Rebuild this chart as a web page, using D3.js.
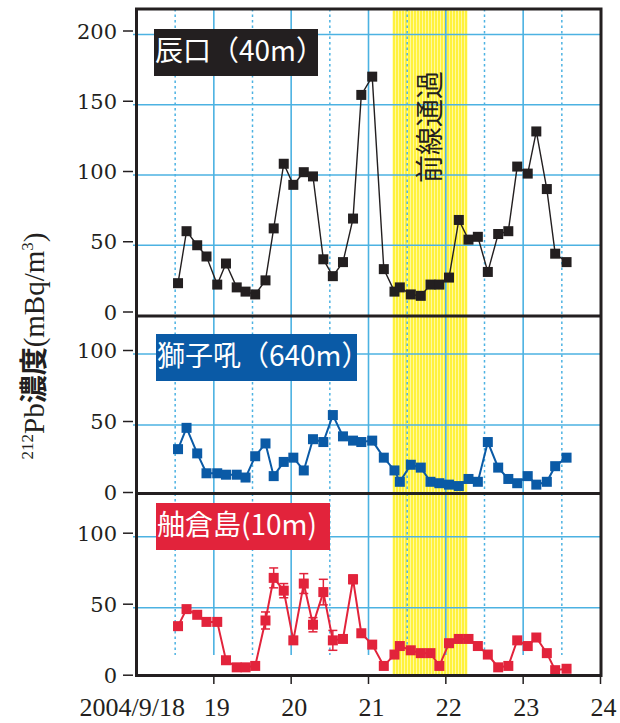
<!DOCTYPE html>
<html>
<head>
<meta charset="utf-8">
<script src="https://cdn.jsdelivr.net/npm/d3@7"></script>
<style>
  body { margin: 0; background: #fff; }
  svg { display: block; }
</style>
</head>
<body>
<svg id="chart" width="620" height="723"></svg>
<script>
// Sampling times, in days of September 2004
const times = [18.537, 18.647, 18.785, 18.905, 19.044, 19.157, 19.296, 19.410, 19.535, 19.668,
               19.774, 19.904, 20.028, 20.163, 20.282, 20.416, 20.539, 20.670, 20.800, 20.907,
               21.048, 21.198, 21.336, 21.405, 21.547, 21.676, 21.802, 21.916, 22.041, 22.168,
               22.293, 22.414, 22.543, 22.677, 22.808, 22.923, 23.059, 23.170, 23.306, 23.414,
               23.561];

// 212Pb concentration (mBq/m3) at each site
const tatsunokuchi = [23, 60, 50, 42, 22, 37, 20, 17, 15, 25, 62, 108, 93, 102, 99, 40, 28, 38, 69, 157,
                      170, 33, 17, 20, 15, 14, 22, 22, 27, 68, 54, 56, 31, 58, 60, 106, 101, 131, 90, 44,
                      38];
const shishiku = [33, 48, 30, 16, 16, 15, 15, 13, 28, 37, 14, 24, 27, 18, 40, 38, 57, 42, 39, 38,
                  39, 27, 18, 10, 22, 20, 10, 9, 8, 7, 12, 10, 38, 20, 12, 9, 14, 8, 10, 21,
                  27];
const hegura = [37, 49, 45, 40, 40, 13, 8, 8, 9, 41, 71, 62, 27, 67, 38, 61, 27, 28, 70, 32,
                24, 9, 17, 23, 20, 18, 18, 9, 25, 28, 28, 23, 17, 8, 9, 27, 23, 29, 18, 6,
                7];
const heguraErr = [0, 0, 0, 0, 0, 0, 0, 0, 0, 6, 7, 5, 0, 7, 5, 9, 7, 0, 3, 0,
                   0, 0, 0, 0, 0, 0, 0, 0, 0, 0, 0, 0, 0, 0, 0, 0, 0, 0, 0, 0,
                   0];

const dayTicks = [19, 20, 21, 22, 23, 24];
const dayLabels = ["19", "20", "21", "22", "23", "24"];
const firstDayLabel = "2004/9/18";
const gridDays = [19, 20, 21, 22, 23];
const halfDays = [18.5, 19.5, 20.5, 21.5, 22.5, 23.5];
const frontPassage = [21.31, 22.28];
const frontLabel = "前線通過";

const topTicks = [0, 50, 100, 150, 200];
const lowTicks = [0, 50, 100];

const svg = d3.select("#chart");
const INK = "#231f20";
const GRID = "#4cb2e2";
const CJK = "'Noto Sans CJK JP', 'Noto Sans CJK SC', sans-serif";

const left = 136.5, right = 600.5;
const x = d3.scaleLinear().domain([18, 24]).range([left, right]);

const panels = [
  { name: "辰口（40m）", values: tatsunokuchi, err: null, color: INK, lineW: 1.4,
    top: 9, bottom: 316, y: d3.scaleLinear().domain([0, 200]).range([315.5, 34.5]),
    ticks: topTicks, grid: [50, 100, 150, 200], vBottom: 316,
    box: [154, 29, 164, 47], textBase: 61 },
  { name: "獅子吼（640m）", values: shishiku, err: null, color: "#0a5aa6", lineW: 2,
    top: 316, bottom: 493.5, y: d3.scaleLinear().domain([0, 100]).range([496, 354]),
    ticks: lowTicks, grid: [50, 100], vBottom: 493.5,
    box: [156, 334, 201, 47], textBase: 366 },
  { name: "舳倉島(10m)", values: hegura, err: heguraErr, color: "#e2233b", lineW: 2,
    top: 493.5, bottom: 675.5, y: d3.scaleLinear().domain([0, 100]).range([678.7, 536.7]),
    ticks: lowTicks, grid: [50, 100], vBottom: 655,
    box: [156, 503, 174, 47], textBase: 535 }
];

// hatched yellow band pattern
const defs = svg.append("defs");
const pat = defs.append("pattern").attr("id", "hatch").attr("patternUnits", "userSpaceOnUse")
  .attr("width", 3).attr("height", 4);
pat.append("rect").attr("width", 3).attr("height", 4).attr("fill", "#fff23c");
pat.append("rect").attr("x", 2.2).attr("width", 0.8).attr("height", 4).attr("fill", "#fffbb8");

// front passage band
svg.append("rect")
  .attr("x", x(frontPassage[0])).attr("y", 10.5)
  .attr("width", x(frontPassage[1]) - x(frontPassage[0])).attr("height", 665)
  .attr("fill", "url(#hatch)");

// gridlines
panels.forEach(p => {
  const g = svg.append("g");
  g.selectAll("line.h").data(p.grid).join("line")
    .attr("x1", 133).attr("x2", right)
    .attr("y1", d => p.y(d)).attr("y2", d => p.y(d))
    .attr("stroke", GRID).attr("stroke-width", 1.6);
  g.selectAll("line.d").data(gridDays).join("line")
    .attr("x1", d => x(d)).attr("x2", d => x(d))
    .attr("y1", p.top).attr("y2", p.vBottom)
    .attr("stroke", GRID).attr("stroke-width", 1.6);
  g.selectAll("line.hd").data(halfDays).join("line")
    .attr("x1", d => x(d)).attr("x2", d => x(d))
    .attr("y1", p.top).attr("y2", p.vBottom)
    .attr("stroke", GRID).attr("stroke-width", 1.5)
    .attr("stroke-dasharray", "2.5,3");
});

// front passage label
svg.append("text")
  .attr("transform", `translate(${(x(frontPassage[0]) + x(frontPassage[1])) / 2 + 10},127) rotate(-90)`)
  .attr("text-anchor", "middle")
  .attr("font-family", CJK).attr("font-size", 28).attr("fill", INK)
  .text(frontLabel);

// series
panels.forEach(p => {
  const g = svg.append("g");
  const pts = times.map((t, i) => ({ t, v: p.values[i], e: p.err ? p.err[i] : 0 }));
  g.append("path").datum(pts)
    .attr("d", d3.line().x(d => x(d.t)).y(d => p.y(d.v)))
    .attr("fill", "none").attr("stroke", p.color).attr("stroke-width", p.lineW);
  const eb = pts.filter(d => d.e > 0);
  g.selectAll("line.eb").data(eb).join("line")
    .attr("x1", d => x(d.t)).attr("x2", d => x(d.t))
    .attr("y1", d => p.y(d.v - d.e)).attr("y2", d => p.y(d.v + d.e))
    .attr("stroke", p.color).attr("stroke-width", 1.5);
  [1, -1].forEach(s => {
    g.selectAll("line.cap" + s).data(eb).join("line")
      .attr("x1", d => x(d.t) - 4.5).attr("x2", d => x(d.t) + 4.5)
      .attr("y1", d => p.y(d.v + s * d.e)).attr("y2", d => p.y(d.v + s * d.e))
      .attr("stroke", p.color).attr("stroke-width", 1.5);
  });
  g.selectAll("rect").data(pts).join("rect")
    .attr("x", d => x(d.t) - 5).attr("y", d => p.y(d.v) - 5)
    .attr("width", 10).attr("height", 10).attr("fill", p.color);

  // site label box
  svg.append("rect")
    .attr("x", p.box[0]).attr("y", p.box[1]).attr("width", p.box[2]).attr("height", p.box[3])
    .attr("fill", p.color);
  svg.append("text")
    .attr("x", p.box[0] + 1).attr("y", p.textBase)
    .attr("font-family", CJK).attr("font-size", 28).attr("fill", "#fff")
    .text(p.name);

  // y axis
  const ax = svg.append("g").attr("transform", "translate(0,-3.5)");
  ax.selectAll("line").data(p.ticks).join("line")
    .attr("x1", 123).attr("x2", 133)
    .attr("y1", d => p.y(d)).attr("y2", d => p.y(d))
    .attr("stroke", INK).attr("stroke-width", 1.5);
  ax.selectAll("text").data(p.ticks).join("text")
    .attr("x", 117).attr("y", d => p.y(d) + 7.5)
    .attr("text-anchor", "end")
    .attr("font-family", "'DejaVu Serif', serif").attr("font-size", 21).attr("fill", INK)
    .text(d => d);
});

// frame and panel dividers
svg.append("rect").attr("x", left).attr("y", 9).attr("width", right - left + 0.5).attr("height", 666.5)
  .attr("fill", "none").attr("stroke", INK).attr("stroke-width", 3);
[316, 493.5].forEach(yv => {
  svg.append("line").attr("x1", left).attr("x2", right + 0.5).attr("y1", yv).attr("y2", yv)
    .attr("stroke", INK).attr("stroke-width", 3);
});

// x axis
const xa = svg.append("g");
xa.selectAll("line").data(dayTicks).join("line")
  .attr("x1", d => x(d)).attr("x2", d => x(d)).attr("y1", 677).attr("y2", 684)
  .attr("stroke", INK).attr("stroke-width", 1.5);
xa.selectAll("text").data(dayTicks).join("text")
  .attr("x", d => x(d) + 3).attr("y", 716)
  .attr("text-anchor", "middle")
  .attr("font-family", "'Liberation Serif', serif").attr("font-size", 26).attr("fill", INK)
  .text((d, i) => dayLabels[i]);
xa.append("text").attr("x", 185).attr("y", 716).attr("text-anchor", "end")
  .attr("font-family", "'Liberation Serif', serif").attr("font-size", 26).attr("fill", INK)
  .text(firstDayLabel);

// y axis title
const yt = svg.append("text")
  .attr("transform", "translate(44,346) rotate(-90)")
  .attr("text-anchor", "middle")
  .attr("font-family", "'Liberation Serif', serif").attr("font-size", 29).attr("fill", INK);
yt.append("tspan").attr("font-size", 17).attr("dy", -11).text("212");
yt.append("tspan").attr("dy", 11).text("Pb");
yt.append("tspan").attr("font-family", CJK).attr("font-weight", 700).attr("font-size", 28).text("濃度");
yt.append("tspan").text("(mBq/m");
yt.append("tspan").attr("font-size", 17).attr("dy", -11).text("3");
yt.append("tspan").attr("dy", 11).text(")");
</script>
</body>
</html>
